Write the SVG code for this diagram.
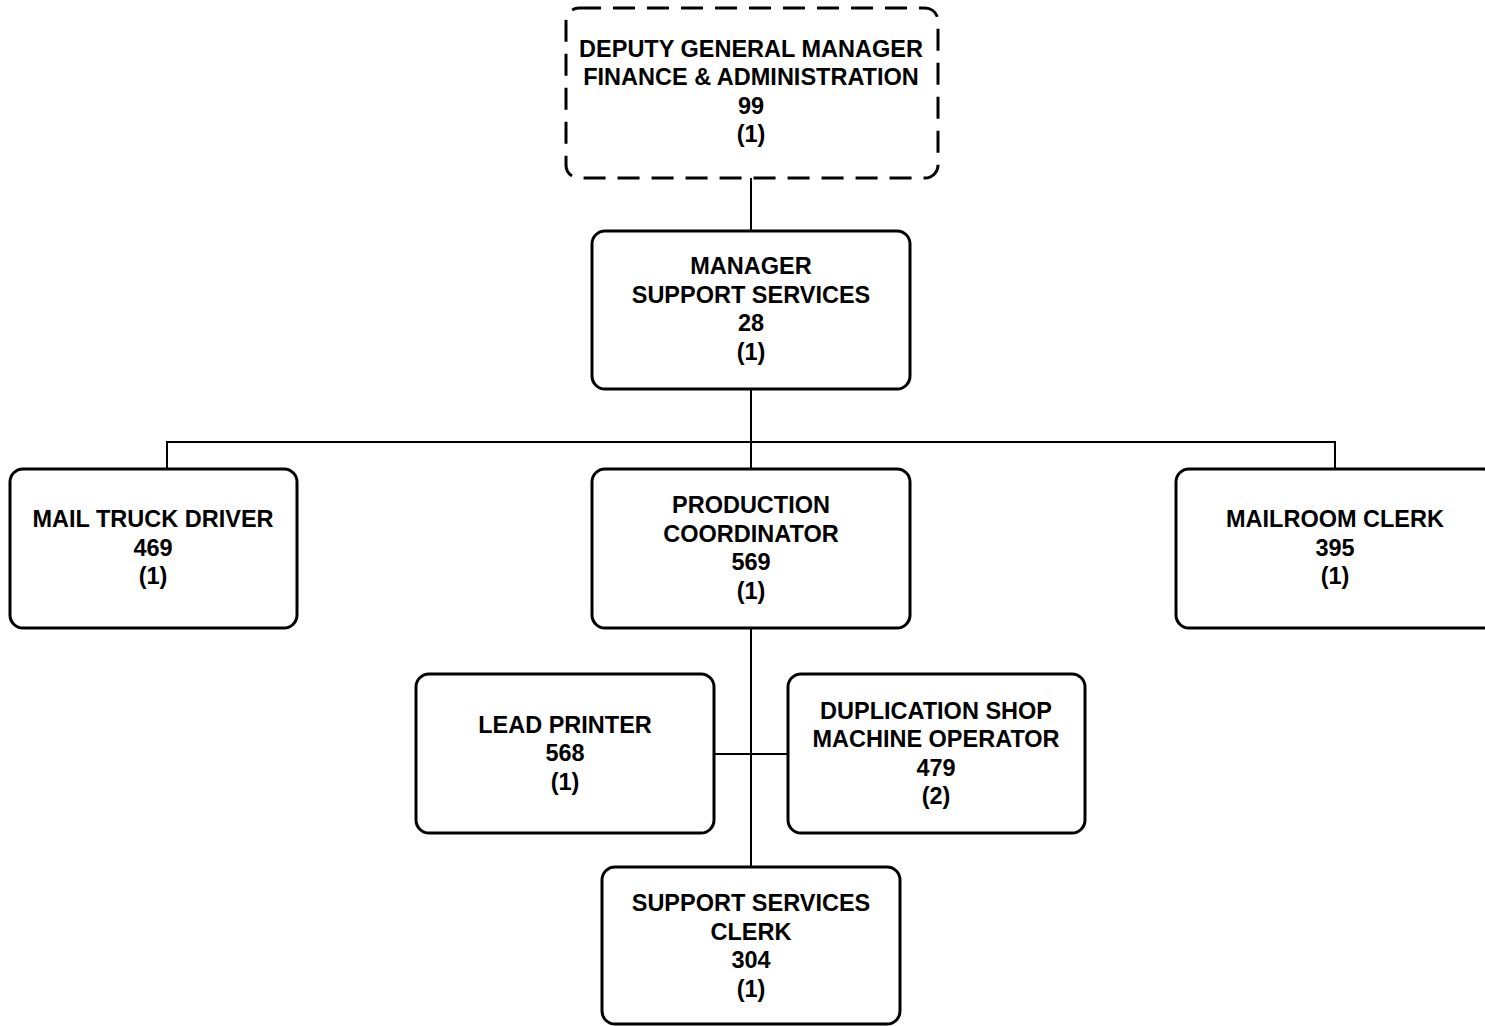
<svg xmlns="http://www.w3.org/2000/svg" width="1485" height="1026" viewBox="0 0 1485 1026">
  <style>
    .box { fill: #fff; stroke: #000; stroke-width: 3; }
    .dashed { stroke-dasharray: 22 12; }
    .lbl { font-family: "Liberation Sans", Arial, sans-serif; font-weight: bold; font-size: 23.5px; fill: #000; text-anchor: middle; }
    .wire { stroke: #000; stroke-width: 2; fill: none; }
  </style>
  <rect width="1485" height="1026" fill="#fff"/>

  <!-- reporting lines -->
  <g id="connectors">
    <line class="wire" x1="751" y1="178" x2="751" y2="231"/>
    <line class="wire" x1="751" y1="389" x2="751" y2="469"/>
    <polyline class="wire" points="167,469 167,442 1335,442 1335,469"/>
    <line class="wire" x1="751" y1="628" x2="751" y2="867"/>
    <line class="wire" x1="714" y1="754" x2="788" y2="754"/>
  </g>

  <g id="dgm-finance-admin">
    <rect class="box dashed" x="566" y="8" width="372" height="170" rx="13"/>
    <text class="lbl" x="751" y="57">DEPUTY GENERAL MANAGER</text>
    <text class="lbl" x="751" y="85">FINANCE &amp; ADMINISTRATION</text>
    <text class="lbl" x="751" y="114">99</text>
    <text class="lbl" x="751" y="142">(1)</text>
  </g>

  <g id="manager-support-services">
    <rect class="box" x="592" y="231" width="318" height="158" rx="13"/>
    <text class="lbl" x="751" y="274">MANAGER</text>
    <text class="lbl" x="751" y="303">SUPPORT SERVICES</text>
    <text class="lbl" x="751" y="331">28</text>
    <text class="lbl" x="751" y="360">(1)</text>
  </g>

  <g id="mail-truck-driver">
    <rect class="box" x="10" y="469" width="287" height="159" rx="13"/>
    <text class="lbl" x="153" y="527">MAIL TRUCK DRIVER</text>
    <text class="lbl" x="153" y="556">469</text>
    <text class="lbl" x="153" y="584">(1)</text>
  </g>

  <g id="production-coordinator">
    <rect class="box" x="592" y="469" width="318" height="159" rx="13"/>
    <text class="lbl" x="751" y="513">PRODUCTION</text>
    <text class="lbl" x="751" y="542">COORDINATOR</text>
    <text class="lbl" x="751" y="570">569</text>
    <text class="lbl" x="751" y="599">(1)</text>
  </g>

  <g id="mailroom-clerk">
    <rect class="box" x="1176" y="469" width="320" height="159" rx="13"/>
    <text class="lbl" x="1335" y="527">MAILROOM CLERK</text>
    <text class="lbl" x="1335" y="556">395</text>
    <text class="lbl" x="1335" y="584">(1)</text>
  </g>

  <g id="lead-printer">
    <rect class="box" x="416" y="674" width="298" height="159" rx="13"/>
    <text class="lbl" x="565" y="733">LEAD PRINTER</text>
    <text class="lbl" x="565" y="761">568</text>
    <text class="lbl" x="565" y="790">(1)</text>
  </g>

  <g id="duplication-shop-operator">
    <rect class="box" x="788" y="674" width="297" height="159" rx="13"/>
    <text class="lbl" x="936" y="719">DUPLICATION SHOP</text>
    <text class="lbl" x="936" y="747">MACHINE OPERATOR</text>
    <text class="lbl" x="936" y="776">479</text>
    <text class="lbl" x="936" y="804">(2)</text>
  </g>

  <g id="support-services-clerk">
    <rect class="box" x="602" y="867" width="298" height="157" rx="13"/>
    <text class="lbl" x="751" y="911">SUPPORT SERVICES</text>
    <text class="lbl" x="751" y="940">CLERK</text>
    <text class="lbl" x="751" y="968">304</text>
    <text class="lbl" x="751" y="997">(1)</text>
  </g>
</svg>
